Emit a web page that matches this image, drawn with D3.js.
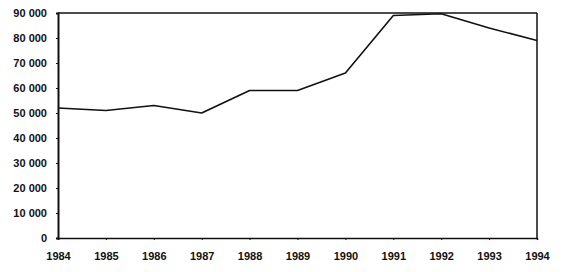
<!DOCTYPE html>
<html>
<head>
<meta charset="utf-8">
<script src="https://cdn.jsdelivr.net/npm/d3@7"></script>
<style>
  body { margin: 0; background: #fff; }
  svg text { font-family: "Liberation Sans", Arial, sans-serif; font-size: 11px; font-weight: bold; fill: #111; }
</style>
</head>
<body>
<div id="chart"></div>
<script>
// data
const years = [1984, 1985, 1986, 1987, 1988, 1989, 1990, 1991, 1992, 1993, 1994];
const values = [52000, 51000, 53000, 50000, 59000, 59000, 66000, 89000, 89700, 84000, 79000];
const yTicks = [0, 10000, 20000, 30000, 40000, 50000, 60000, 70000, 80000, 90000];

const WIDTH = 567;
const HEIGHT = 272;
const margin = { top: 13, right: 30, bottom: 34, left: 58 };

const svg = d3.select("#chart").append("svg")
  .attr("width", WIDTH).attr("height", HEIGHT);

const x = d3.scaleLinear()
  .domain([1984, 1994])
  .range([margin.left, WIDTH - margin.right]);

const y = d3.scaleLinear()
  .domain([0, 90000])
  .range([HEIGHT - margin.bottom, margin.top]);

const fmt = v => d3.format(",")(v).replace(/,/g, " ");

// y axis
const yAxis = svg.append("g")
  .attr("transform", `translate(${margin.left},0)`)
  .call(d3.axisLeft(y).tickValues(yTicks).tickFormat(fmt).tickSize(2).tickPadding(9));
yAxis.select(".domain").attr("stroke", "#111").attr("stroke-width", 2);
yAxis.selectAll(".tick line").attr("stroke", "#111");
yAxis.selectAll("text").attr("dy", "0.35em");

// x axis
const xAxis = svg.append("g")
  .attr("transform", `translate(0,${HEIGHT - margin.bottom})`)
  .call(d3.axisBottom(x).tickValues(years).tickFormat(d3.format("d")).tickSize(2).tickPadding(12));
xAxis.select(".domain").attr("stroke", "#111").attr("stroke-width", 1.5);
xAxis.selectAll(".tick line").attr("stroke", "#111");

// top and right frame
svg.append("line")
  .attr("x1", x(1984)).attr("x2", x(1994))
  .attr("y1", y(90000)).attr("y2", y(90000))
  .attr("stroke", "#111").attr("stroke-width", 1.5);
svg.append("line")
  .attr("x1", x(1994)).attr("x2", x(1994))
  .attr("y1", y(90000)).attr("y2", y(0))
  .attr("stroke", "#111").attr("stroke-width", 1.5);

// the series
const line = d3.line()
  .x((d, i) => x(years[i]))
  .y(d => y(d));

svg.append("path")
  .datum(values)
  .attr("d", line)
  .attr("fill", "none")
  .attr("stroke", "#111")
  .attr("stroke-width", 1.6)
  .attr("stroke-linejoin", "round");
</script>
</body>
</html>
